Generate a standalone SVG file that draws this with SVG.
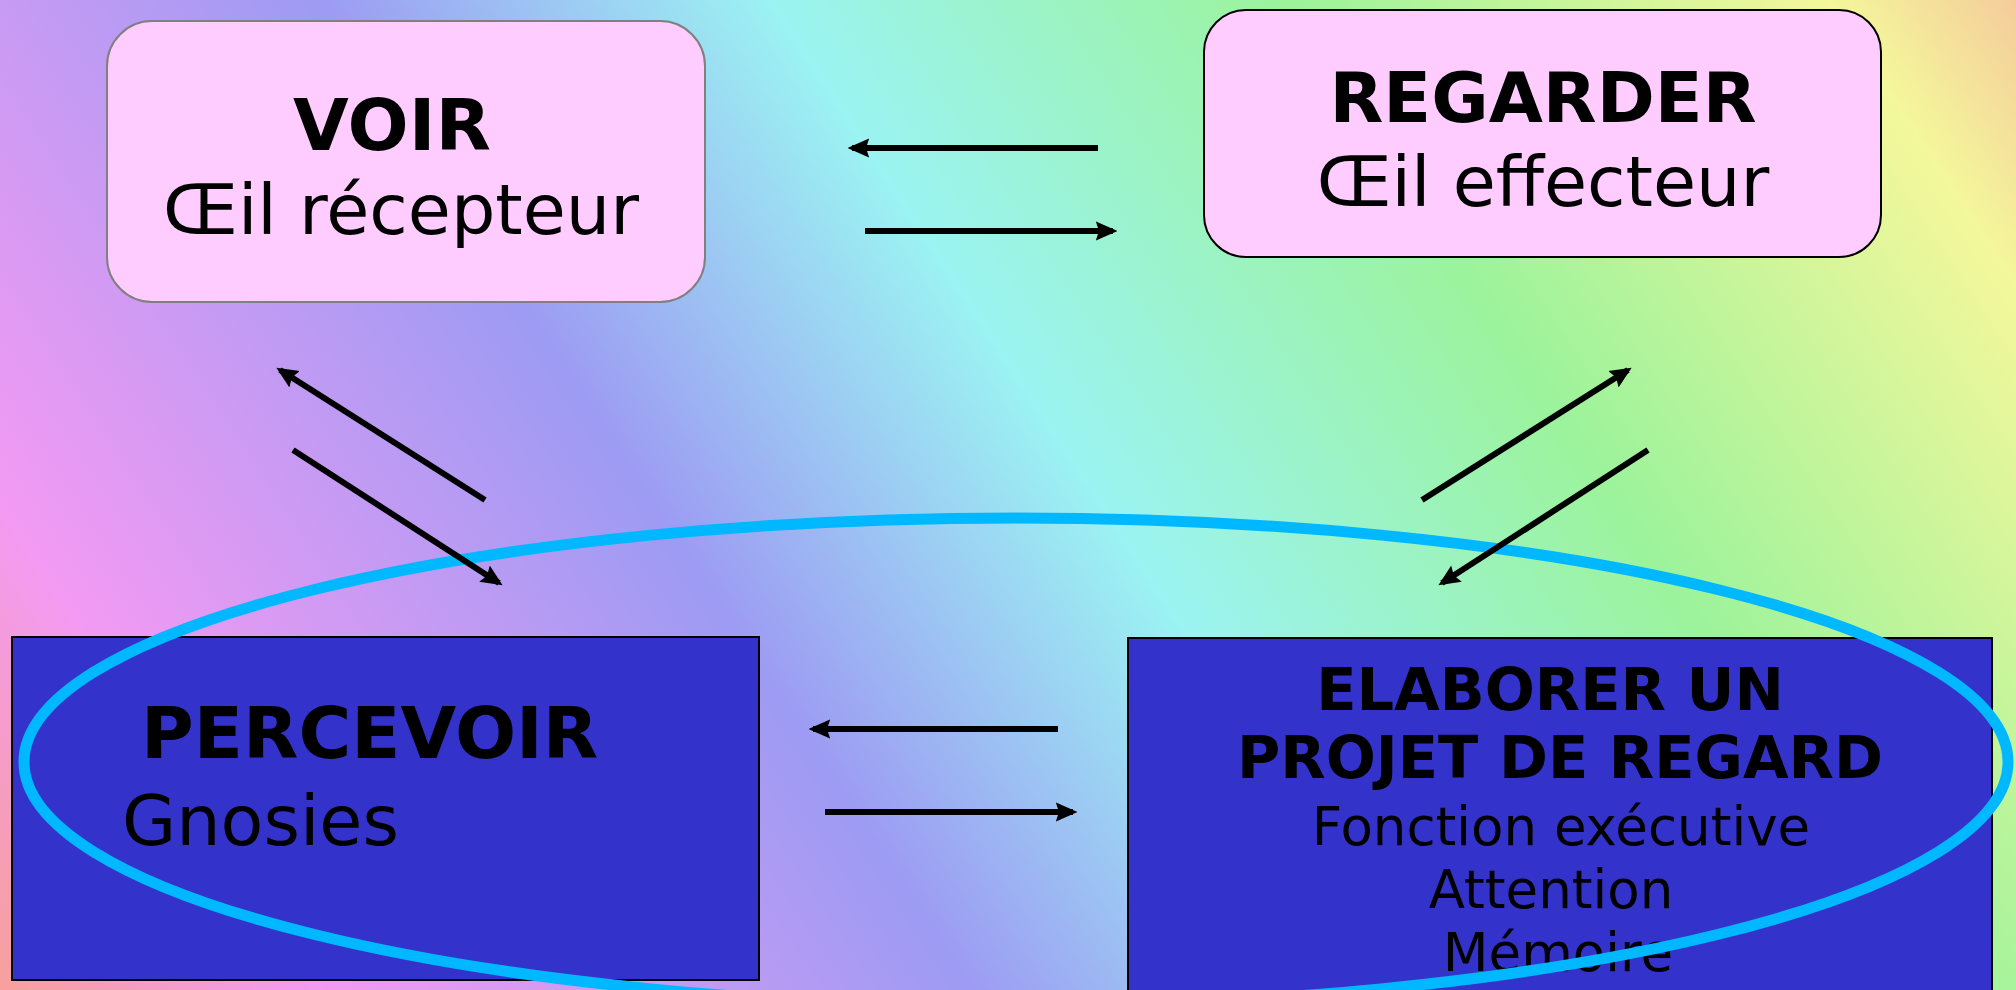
<svg xmlns="http://www.w3.org/2000/svg" width="2016" height="990" viewBox="0 0 2016 990">
<defs>
<linearGradient id="bg" gradientUnits="userSpaceOnUse" x1="0" y1="990" x2="1862" y2="-233">
<stop offset="0" stop-color="#f7a09c"/>
<stop offset="0.12" stop-color="#f39af3"/>
<stop offset="0.364" stop-color="#9d9bf3"/>
<stop offset="0.533" stop-color="#9bf3f2"/>
<stop offset="0.728" stop-color="#9cf39b"/>
<stop offset="0.93" stop-color="#f4f79b"/>
<stop offset="1" stop-color="#f5cc9b"/>
</linearGradient>
<marker id="ah" viewBox="0 0 10 10" refX="8" refY="5" markerWidth="3.6" markerHeight="3.6" orient="auto" markerUnits="strokeWidth">
<path d="M0,0.5 L10,5 L0,9.5 L1.5,5 Z" fill="#000"/>
</marker>
<style>
.pink{fill:#ffccff;}
.blue{fill:#3333cc;stroke:#000;stroke-width:2;}
.t{font-family:"DejaVu Sans",sans-serif;fill:#000;}
.b{font-weight:bold;}
.c{text-anchor:middle;}
.arr{stroke:#000;stroke-width:6;fill:none;marker-end:url(#ah);}
</style>
</defs>
<rect x="0" y="0" width="2016" height="990" fill="url(#bg)"/>
<g id="voir">
<rect class="pink" x="107" y="21" width="598" height="281" rx="45" stroke="#808080" stroke-width="2"/>
<text class="t b c" x="392" y="150" font-size="72">VOIR</text>
<text class="t c" x="401" y="234" font-size="70">Œil récepteur</text>
</g>
<g id="regarder">
<rect class="pink" x="1204" y="10" width="677" height="247" rx="42" stroke="#000" stroke-width="2"/>
<text class="t b c" x="1543" y="122" font-size="70">REGARDER</text>
<text class="t c" x="1543" y="206" font-size="70">Œil effecteur</text>
</g>
<g id="percevoir">
<rect class="blue" x="12" y="637" width="747" height="343"/>
<text class="t b" x="141" y="758" font-size="72">PERCEVOIR</text>
</g>
<g id="elaborer">
<rect class="blue" x="1128" y="638" width="864" height="360"/>
<text class="t b c" x="1550" y="710" font-size="59">ELABORER UN</text>
<text class="t b c" x="1560" y="778" font-size="59">PROJET DE REGARD</text>
<text class="t c" x="1561" y="845" font-size="53">Fonction exécutive</text>
<text class="t c" x="1551" y="908" font-size="53">Attention</text>
<text class="t c" x="1558" y="971" font-size="53">Mémoire</text>
</g>
<g id="boucle">
<ellipse cx="1016" cy="762" rx="992" ry="244" fill="none" stroke="#00b8ff" stroke-width="11"/>
</g>
<g id="gnosies">
<text class="t" x="122" y="845" font-size="70">Gnosies</text>
</g>
<g id="connectors">
<line class="arr" x1="1098" y1="148" x2="852" y2="148"/>
<line class="arr" x1="865" y1="231" x2="1113" y2="231"/>
<line class="arr" x1="1058" y1="729" x2="813" y2="729"/>
<line class="arr" x1="825" y1="812" x2="1073" y2="812"/>
<line class="arr" x1="485" y1="500" x2="280" y2="370"/>
<line class="arr" x1="293" y1="450" x2="499" y2="583"/>
<line class="arr" x1="1422" y1="500" x2="1628" y2="370"/>
<line class="arr" x1="1648" y1="450" x2="1442" y2="583"/>
</g>
</svg>
